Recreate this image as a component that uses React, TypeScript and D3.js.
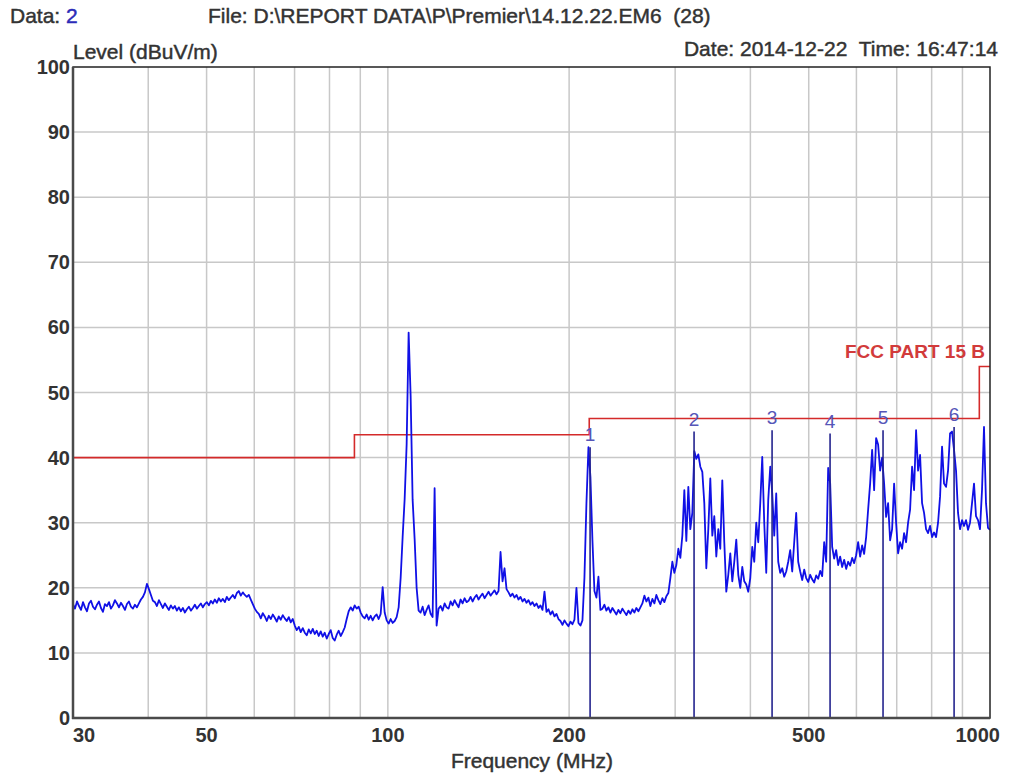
import React from "react";
import * as d3 from "d3";

// receiver sweep, 30 MHz .. 1 GHz, log stepped
const sweepStart = 30;
const sweepStop = 1000;

// measured level, dBuV/m, one reading per sweep step
const levels = [
  17.5, 16.8, 17.9, 17.2, 16.6, 17.8, 17.0, 16.4, 17.6, 18.0,
  17.1, 16.7, 17.4, 17.9, 16.9, 16.3, 17.5, 17.2, 17.8, 16.8,
  17.3, 18.1, 17.6, 17.0, 17.7, 17.2, 16.6, 17.5, 17.9, 17.1,
  16.8, 17.4, 17.0, 17.6, 18.2, 18.6, 19.3,
  20.6, 19.8, 18.9, 18.0,
  17.8, 17.2, 18.1, 17.5, 16.9, 17.6, 17.1, 16.6, 17.3, 16.8,
  17.2, 16.5, 17.0, 16.4, 16.9, 16.2, 16.7, 17.1, 16.5, 16.9,
  17.4, 16.8, 17.2, 17.6, 17.0, 17.5,
  17.8, 17.3, 18.0, 17.6, 18.2, 17.7, 18.4, 17.9, 18.3, 17.8, 18.6, 18.1, 18.5, 18.9, 18.4,
  19.2, 19.5, 18.8, 19.3, 18.9, 18.6, 18.9,
  18.2, 17.5, 16.8, 16.3,
  16.0, 15.3, 16.1, 15.6, 14.9, 15.7, 15.2, 15.9, 15.4, 14.8,
  15.6, 15.1, 15.8, 15.3, 14.9, 15.5, 14.7, 15.2,
  14.2, 13.5, 14.0, 13.2, 13.8, 13.1, 12.7, 13.6, 13.0, 13.7,
  12.9, 13.4, 12.6, 13.3, 12.5, 13.1, 12.2, 12.9, 13.5, 12.3,
  11.9, 12.8, 13.4, 12.6, 13.2, 13.9,
  15.2, 16.4, 17.0, 16.5, 17.3, 16.8, 17.1, 16.2, 15.6,
  15.3, 15.9, 15.1, 15.7, 15.0, 15.6, 15.9, 15.2, 16.0,
  20.1, 16.2,
  15.0, 14.5, 15.2, 14.6, 14.9, 15.5,
  17.0, 21.5, 27.8, 33.6, 42.0, 59.2, 49.5, 33.5, 27.5, 20.0, 16.5,
  16.2, 17.1, 15.8, 16.6, 17.3, 16.0, 15.5,
  35.3, 14.2, 16.8,
  17.2, 16.5, 17.6, 17.0, 16.8, 17.9, 17.3, 18.1, 17.5, 17.0,
  18.2, 17.6, 18.4, 17.8, 18.0, 18.6, 17.9, 18.5, 18.9, 18.2,
  18.7, 19.1, 18.4, 18.9, 19.4, 18.8, 19.2, 19.6, 19.0,
  19.5, 25.5, 21.0, 23.0, 19.8,
  19.3, 18.7, 19.1, 18.5, 18.9, 18.2, 18.6, 17.9, 18.3, 17.7,
  18.1, 17.4, 17.8, 17.2, 17.6, 16.9, 17.3, 16.6, 19.4, 16.3,
  16.7, 15.9, 16.4, 15.6, 16.0, 15.2,
  14.9, 14.3, 15.0, 14.5, 14.1, 14.8, 14.4, 15.1, 20.0, 14.6, 14.2, 15.0,
  21.6, 33.0, 41.6, 37.0, 27.3, 19.5, 18.5, 21.7, 16.6,
  16.8, 17.4, 16.5, 17.0, 16.2, 16.9, 16.4, 15.9, 16.6, 16.1,
  16.8, 16.3, 15.8, 16.5, 16.0, 16.7, 16.2, 16.9, 16.4, 17.0,
  17.6, 18.8, 17.9, 18.5, 17.2, 18.3, 17.6, 18.9, 18.1, 17.5, 18.4, 17.8, 18.7, 19.2,
  21.5, 24.0, 22.3, 23.5, 26.0, 24.6, 28.0, 35.0, 27.2, 35.5, 29.0, 31.5,
  41.0, 39.8, 40.5, 38.6, 37.8, 33.0,
  23.0, 29.0, 36.8, 28.0, 31.0, 24.8, 29.0, 26.0, 36.5, 27.0,
  19.4, 22.0, 25.3, 21.0, 24.0, 27.4, 22.0, 20.0, 23.2, 21.0,
  20.5, 19.4, 21.5, 26.3, 24.0, 30.0, 27.0,
  33.0, 40.1, 30.0, 22.3, 33.5, 38.6, 34.5, 28.0, 34.5, 24.0,
  22.3, 23.0, 21.7, 22.5, 24.0, 25.8, 22.5, 27.0, 31.5, 24.0,
  22.5, 21.2, 22.8, 21.5, 20.9, 22.0, 21.3, 20.8, 21.9, 21.4, 22.6, 21.8,
  27.0, 24.0, 38.4, 36.0, 26.3, 24.5,
  25.8, 23.5, 24.8, 23.2, 24.3, 22.9, 24.0, 23.4, 24.6, 23.8, 25.0,
  27.0, 24.8, 26.5, 25.2, 27.8, 32.0,
  36.0, 41.2, 35.0, 43.0, 42.0, 38.0, 40.0, 36.0, 30.9, 33.0, 27.3, 29.0,
  36.0, 30.0, 25.3, 27.0, 26.0, 28.4, 27.0, 30.0, 32.0,
  38.6, 35.0, 44.2, 38.0, 40.4, 33.0, 31.5, 29.0, 28.4, 29.5, 27.8, 28.5,
  27.8, 30.0, 34.0, 41.7, 36.0, 35.5, 38.0, 43.7, 44.0, 41.2, 38.0, 31.5,
  29.0, 30.4, 29.5, 30.4, 28.9, 30.0, 33.0, 36.0, 31.0, 30.4, 29.0, 35.0, 44.7, 33.0, 29.2, 28.9,
];

// FCC part 15 class B limit (step after each frequency)
const limitFreqs = [30, 88, 216, 960, 1000];
const limitLevels = [40, 43.5, 46, 54, 54];

// peak markers
const markerNames = ["1", "2", "3", "4", "5", "6"];
const markerFreqs = [216.7, 322.5, 434.6, 542.5, 664.3, 871.7];
const markerLevels = [41.6, 44.0, 44.2, 43.7, 44.2, 44.7];

const yTicks = [0, 10, 20, 30, 40, 50, 60, 70, 80, 90, 100];
const gridFreqs = [40, 50, 60, 70, 80, 90, 100, 200, 300, 400, 500, 600, 700, 800, 900];
const xTickLabels = [30, 50, 100, 200, 500, 1000];

const W = 1014;
const H = 775;
const left = 73, right = 990, top = 67, bottom = 718;

const font = "'Liberation Sans', Arial, sans-serif";
const ink = "#333";

export default function App() {
  const x = d3.scaleLog().domain([sweepStart, sweepStop]).range([left, right]);
  const y = d3.scaleLinear().domain([0, 100]).range([bottom, top]);

  const n = levels.length;
  const trace = levels.map((v, i) => [sweepStart * Math.pow(sweepStop / sweepStart, i / (n - 1)), v]);
  const line = d3.line().x((d) => x(d[0])).y((d) => y(d[1]));

  const limit = d3
    .line()
    .x((d) => x(d[0]))
    .y((d) => y(d[1]))
    .curve(d3.curveStepAfter);
  const limitPts = limitFreqs.map((f, i) => [f, limitLevels[i]]);

  // scanned text looks a bit heavier than plain regular
  const heavy = { stroke: ink, strokeWidth: 0.45 };

  return (
    <svg
      width={W}
      height={H}
      style={{ position: "absolute", left: 0, top: 0, background: "#fff", fontFamily: font }}
    >
      {/* header */}
      <text x={10} y={23} fontSize={21} fill={ink} {...heavy}>
        Data: <tspan fill="#2b2bb8" stroke="#2b2bb8">2</tspan>
      </text>
      <text x={208} y={23} fontSize={21} fill={ink} {...heavy} style={{ whiteSpace: "pre" }}>
        {"File: D:\\REPORT DATA\\P\\Premier\\14.12.22.EM6  (28)"}
      </text>
      <text x={73} y={59} fontSize={21} fill={ink} {...heavy}>
        Level (dBuV/m)
      </text>
      <text x={998} y={56} fontSize={21} fill={ink} {...heavy} textAnchor="end" style={{ whiteSpace: "pre" }}>
        {"Date: 2014-12-22  Time: 16:47:14"}
      </text>

      {/* grid */}
      {yTicks.slice(1, -1).map((t) => (
        <line key={"gy" + t} x1={left} x2={right} y1={y(t)} y2={y(t)} stroke="#c8c8c8" strokeWidth={1.5} />
      ))}
      {gridFreqs.map((f) => (
        <line key={"gx" + f} x1={x(f)} x2={x(f)} y1={top} y2={bottom} stroke="#c8c8c8" strokeWidth={1.5} />
      ))}

      {/* limit */}
      <path d={limit(limitPts) || ""} fill="none" stroke="#d42a2a" strokeWidth={1.6} />
      <text x={985} y={358} fontSize={19} fontWeight="bold" fill="#d23b3b" textAnchor="end">
        FCC PART 15 B
      </text>

      {/* trace */}
      <path d={line(trace) || ""} fill="none" stroke="#1010e6" strokeWidth={1.8} strokeLinejoin="round" />

      {/* markers */}
      {markerFreqs.map((f, i) => (
        <g key={"m" + i}>
          <line x1={x(f)} x2={x(f)} y1={y(0)} y2={y(markerLevels[i])} stroke="#24248e" strokeWidth={1.6} />
          <text x={x(f)} y={y(markerLevels[i]) - 6} fontSize={19} fill="#5656b8" textAnchor="middle">
            {markerNames[i]}
          </text>
        </g>
      ))}

      {/* frame */}
      <rect x={left} y={top} width={right - left} height={bottom - top} fill="none" stroke="#222" strokeWidth={1.5} />
      <line x1={left} x2={left} y1={top} y2={bottom + 1} stroke="#4a4a4a" strokeWidth={2.5} />
      <line x1={left - 1} x2={right} y1={bottom} y2={bottom} stroke="#4a4a4a" strokeWidth={2.5} />

      {/* y ticks */}
      {yTicks.map((t) => (
        <text key={"ty" + t} x={70} y={y(t)} dy="0.35em" fontSize={20} fontWeight="bold" fill={ink} textAnchor="end">
          {t}
        </text>
      ))}

      {/* x ticks */}
      {xTickLabels.map((f, i) => (
        <text
          key={"tx" + f}
          x={i === xTickLabels.length - 1 ? x(f) + 10 : x(f)}
          y={742}
          fontSize={20}
          fontWeight="bold"
          fill={ink}
          textAnchor={i === 0 ? "start" : i === xTickLabels.length - 1 ? "end" : "middle"}
        >
          {f}
        </text>
      ))}

      <text x={532} y={768} fontSize={21} fill={ink} {...heavy} textAnchor="middle">
        Frequency (MHz)
      </text>
    </svg>
  );
}
